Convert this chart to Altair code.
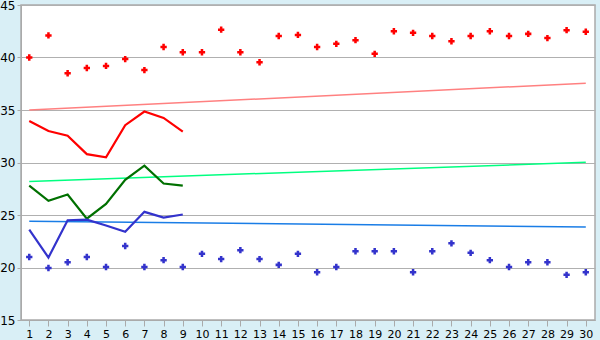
import altair as alt
import pandas as pd

days = list(range(1, 31))
red_points = [40.0, 42.1, 38.5, 39.0, 39.2, 39.85, 38.8, 41.0, 40.5, 40.5,
              42.65, 40.5, 39.55, 42.05, 42.15, 41.0, 41.3, 41.65, 40.35, 42.5,
              42.35, 42.05, 41.55, 42.05, 42.5, 42.05, 42.25, 41.85, 42.6, 42.45]
blue_points = [21.0, 19.95, 20.5, 21.0, 20.05, 22.05, 20.05, 20.7, 20.05, 21.3,
               20.8, 21.65, 20.8, 20.25, 21.3, 19.55, 20.05, 21.55, 21.55, 21.55,
               19.55, 21.55, 22.3, 21.4, 20.7, 20.05, 20.5, 20.5, 19.3, 19.55]
line_days = list(range(1, 10))
red_line = [33.95, 33.0, 32.55, 30.8, 30.5, 33.55, 34.85, 34.25, 32.95]
green_line = [27.8, 26.35, 26.95, 24.65, 26.05, 28.35, 29.7, 28.0, 27.8]
blue_line = [23.6, 20.95, 24.5, 24.55, 24.0, 23.4, 25.3, 24.75, 25.05]
trend_days = [1, 30]
red_trend = [35.0, 37.55]
green_trend = [28.2, 30.02]
blue_trend = [24.4, 23.86]

pts = pd.DataFrame({"day": days + days,
                    "val": red_points + blue_points,
                    "s": ["r"] * 30 + ["b"] * 30})
lines = pd.DataFrame({"day": line_days * 3,
                      "val": red_line + green_line + blue_line,
                      "s": ["r"] * 9 + ["g"] * 9 + ["b"] * 9})
trends = pd.DataFrame({"day": trend_days * 3,
                       "val": red_trend + green_trend + blue_trend,
                       "s": ["r", "r", "g", "g", "b", "b"]})

xs = alt.Scale(domain=[0.57, 30.48], nice=False, zero=False)
ys = alt.Scale(domain=[15, 45], nice=False, zero=False)
xax = alt.Axis(values=days, title=None, grid=False, tickSize=6, labelPadding=2,
               labelFontSize=11, labelFont="DejaVu Sans", labelColor="#000000",
               domainColor="#aaaaaa", tickColor="#aaaaaa", labelFlush=False)
yax = alt.Axis(values=[15, 20, 25, 30, 35, 40, 45], title=None, grid=True,
               gridColor="#b0b0b0", tickSize=4, labelPadding=2, labelFontSize=12,
               labelFont="DejaVu Sans", labelColor="#000000",
               domainColor="#aaaaaa", tickColor="#aaaaaa")

X = alt.X("day:Q", scale=xs, axis=xax)
Y = alt.Y("val:Q", scale=ys, axis=yax)

trend_layer = alt.Chart(trends).mark_line(strokeWidth=1.5).encode(
    x=X, y=Y, detail="s:N",
    color=alt.Color("s:N", scale=alt.Scale(domain=["r", "g", "b"],
                                           range=["#ff8080", "#00ff80", "#1a7de6"]),
                    legend=None))
line_layer = alt.Chart(lines).mark_line(strokeWidth=2.2).encode(
    x=X, y=Y, detail="s:N",
    color=alt.Color("s:N", scale=alt.Scale(domain=["r", "g", "b"],
                                           range=["#ff0000", "#007000", "#3333cc"]),
                    legend=None))
pt_layer = alt.Chart(pts).mark_point(shape="cross", filled=True, size=40, opacity=1).encode(
    x=X, y=Y,
    color=alt.Color("s:N", scale=alt.Scale(domain=["r", "b"],
                                           range=["#ff0000", "#3333cc"]),
                    legend=None))

chart = alt.layer(trend_layer, line_layer, pt_layer).resolve_scale(color="independent").properties(
    width=574, height=315,
    background="#d9eff6",
    autosize=alt.AutoSizeParams(type="none"),
    padding={"left": 21, "top": 5, "right": 5, "bottom": 20},
).configure_view(fill="#ffffff", stroke="#aaaaaa", strokeWidth=1.5)

chart.save("out.html", embed_options={"renderer": "svg", "actions": False})
